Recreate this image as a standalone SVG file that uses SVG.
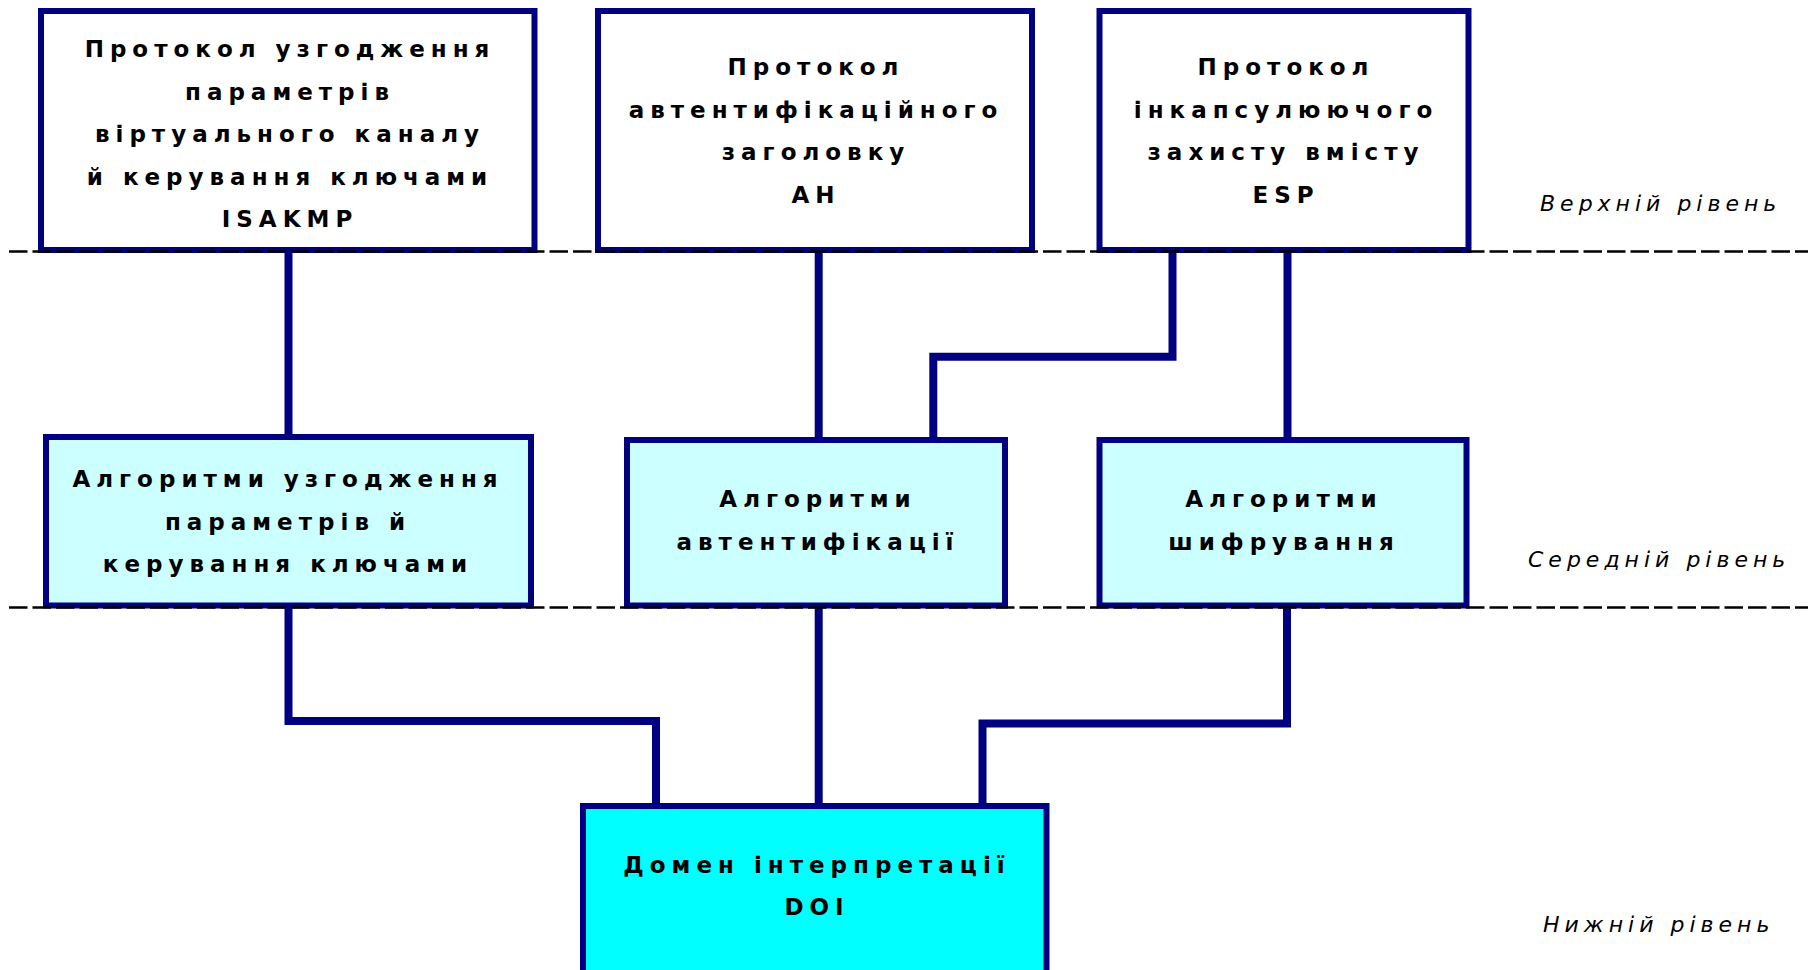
<svg xmlns="http://www.w3.org/2000/svg" width="1812" height="970" viewBox="0 0 1812 970">
<style>
.box{stroke:#000080;stroke-width:6}
.top{fill:#ffffff}
.mid{fill:#ccffff}
.low{fill:#00ffff}
.t{font-family:"DejaVu Sans","Verdana",sans-serif;font-weight:bold;font-size:23px;letter-spacing:6px;fill:#000;text-anchor:middle}
.lvl{font-family:"DejaVu Sans","Verdana",sans-serif;font-style:italic;font-size:22px;letter-spacing:5px;fill:#000}
.con{fill:none;stroke:#000080;stroke-width:8;stroke-linejoin:miter;stroke-linecap:butt}
.dash{stroke:#000;stroke-width:2.5;stroke-dasharray:18.5 5}
</style>
<rect width="1812" height="970" fill="#ffffff"/>
<g id="connectors">
<path class="con" d="M288.5 250 V437"/>
<path class="con" d="M818.7 250 V440"/>
<path class="con" d="M1172.5 250 V356.7 H933.3 V440"/>
<path class="con" d="M1287.5 250 V440"/>
<path class="con" d="M288.5 605 V721 H656 V806"/>
<path class="con" d="M818.7 605 V806"/>
<path class="con" d="M1287 605 V723.5 H982.5 V806"/>
</g>
<g id="isakmp">
<rect class="box top" x="41" y="11" width="493.5" height="239"/>
<text class="t" x="290" y="57">Протокол узгодження</text>
<text class="t" x="290" y="99.5">параметрів</text>
<text class="t" x="290" y="142">віртуального каналу</text>
<text class="t" x="290" y="184.5">й керування ключами</text>
<text class="t" x="290" y="227">ISAKMP</text>
</g>
<g id="ah">
<rect class="box top" x="598" y="11" width="434" height="239"/>
<text class="t" x="816" y="75">Протокол</text>
<text class="t" x="816" y="117.5">автентифікаційного</text>
<text class="t" x="816" y="160">заголовку</text>
<text class="t" x="816" y="202.5">АН</text>
</g>
<g id="esp">
<rect class="box top" x="1099.5" y="11" width="369" height="239"/>
<text class="t" x="1286" y="75">Протокол</text>
<text class="t" x="1286" y="117.5">інкапсулюючого</text>
<text class="t" x="1286" y="160">захисту вмісту</text>
<text class="t" x="1286" y="202.5">ESP</text>
</g>
<g id="alg-keys">
<rect class="box mid" x="46" y="437" width="485" height="168.5"/>
<text class="t" x="288" y="487">Алгоритми узгодження</text>
<text class="t" x="288" y="529.5">параметрів й</text>
<text class="t" x="288" y="572">керування ключами</text>
</g>
<g id="alg-auth">
<rect class="box mid" x="627" y="440" width="378" height="165.5"/>
<text class="t" x="818" y="507">Алгоритми</text>
<text class="t" x="818" y="550">автентифікації</text>
</g>
<g id="alg-enc">
<rect class="box mid" x="1099.5" y="440" width="367" height="165.5"/>
<text class="t" x="1284" y="507">Алгоритми</text>
<text class="t" x="1284" y="550">шифрування</text>
</g>
<g id="doi">
<rect class="box low" x="583" y="806" width="463.5" height="180"/>
<text class="t" x="817" y="873">Домен інтерпретації</text>
<text class="t" x="817" y="915">DOI</text>
</g>
<g id="levels">
<line class="dash" x1="9" y1="251.5" x2="1808" y2="251.5"/>
<line class="dash" x1="9" y1="607.5" x2="1808" y2="607.5"/>
<text class="lvl" x="1540" y="211">Верхній рівень</text>
<text class="lvl" x="1528" y="567">Середній рівень</text>
<text class="lvl" x="1543" y="932">Нижній рівень</text>
</g>
</svg>
